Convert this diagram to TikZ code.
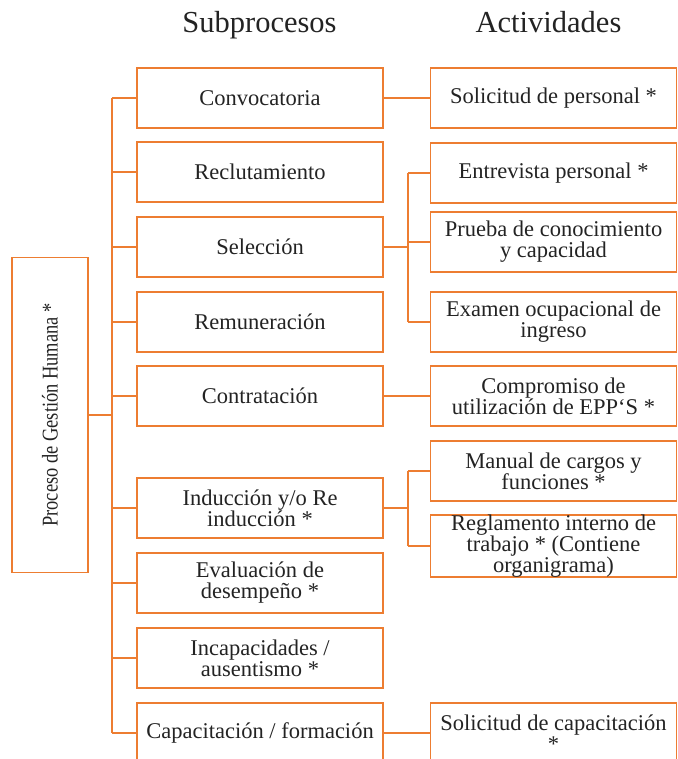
\documentclass[tikz,border=0pt]{standalone}
\usepackage{fontspec}
\setmainfont{Liberation Serif}
\definecolor{naranja}{RGB}{237,125,49}
\definecolor{texto}{RGB}{35,35,35}
\tikzset{
  caja/.style={draw=naranja,line width=1.6pt,minimum width=246pt,minimum height=60pt,
    align=center,inner sep=0pt,text=texto,font=\fontsize{22.5}{21}\selectfont},
  conn/.style={draw=naranja,line width=1.6pt},
  titulo/.style={anchor=base,text=texto,font=\fontsize{30.5}{30.5}\selectfont}
}
\begin{document}
\begin{tikzpicture}[x=1pt,y=-1pt]
\clip (0,0) rectangle (677,759);
% titulos de las columnas
\node[titulo] (tsub) at (259.5,33) {Subprocesos};
\node[titulo] (tact) at (548.5,33) {Actividades};
% proceso principal
\node[caja,minimum width=76pt,minimum height=315pt] (proc) at (50,415)
  {\rotatebox{90}{\scalebox{0.82}[1]{Proceso de Gestión Humana *}}};
% subprocesos
\node[caja] (conv) at (260,98) {Convocatoria};
\node[caja] (recl) at (260,172) {Reclutamiento};
\node[caja] (sele) at (260,247) {Selección};
\node[caja] (remu) at (260,322) {Remuneración};
\node[caja] (cont) at (260,396) {Contratación};
\node[caja] (indu) at (260,508) {Inducción y/o Re\\inducción *};
\node[caja] (eval) at (260,583) {Evaluación de\\desempeño *};
\node[caja] (inca) at (260,658) {Incapacidades /\\ausentismo *};
\node[caja] (capa) at (260,733) {Capacitación / formación};
% actividades
\node[caja] (solp) at (553.5,98) {Solicitud de personal *};
\node[caja] (entr) at (553.5,173) {Entrevista personal *};
\node[caja] (prue) at (553.5,242) {Prueba de conocimiento\\y capacidad};
\node[caja] (exam) at (553.5,322) {Examen ocupacional de\\ingreso};
\node[caja] (comp) at (553.5,396) {Compromiso de\\utilización de EPP`S *};
\node[caja] (manu) at (553.5,471) {Manual de cargos y\\funciones *};
\node[caja] (regl) at (553.5,546) {Reglamento interno de\\trabajo * (Contiene\\organigrama)};
\node[caja] (solc) at (553.5,733) {Solicitud de capacitación\\*};
% lineas de union
\coordinate (eje) at (112,0);
\coordinate (rama) at (408,0);
\draw[conn] (conv.west -| eje) -- (capa.west -| eje);
\draw[conn] (proc.east) -- (proc.east -| eje);
\foreach \n in {conv,recl,sele,remu,cont,indu,eval,inca,capa}
  \draw[conn] (\n.west -| eje) -- (\n.west);
\draw[conn] (conv.east) -- (solp.west);
\draw[conn] (cont.east) -- (comp.west);
\draw[conn] (capa.east) -- (solc.west);
% seleccion
\draw[conn] (sele.east) -- (sele.east -| rama);
\draw[conn] (entr.west -| rama) -- (exam.west -| rama);
\foreach \n in {entr,prue,exam}
  \draw[conn] (\n.west -| rama) -- (\n.west);
% induccion
\draw[conn] (indu.east) -- (indu.east -| rama);
\draw[conn] (manu.west -| rama) -- (regl.west -| rama);
\foreach \n in {manu,regl}
  \draw[conn] (\n.west -| rama) -- (\n.west);
\end{tikzpicture}
\end{document}
